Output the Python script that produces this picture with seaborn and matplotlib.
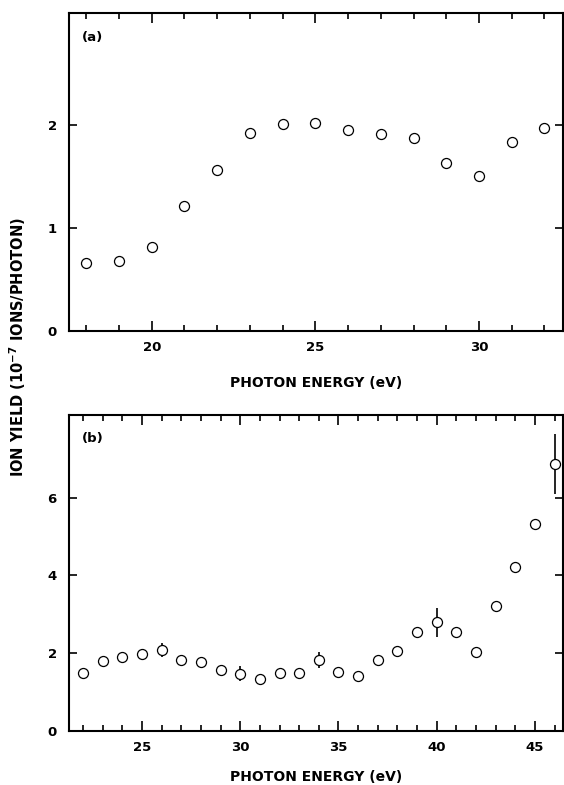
import numpy as np
import pandas as pd
import matplotlib.pyplot as plt
import seaborn as sns
from matplotlib.ticker import MultipleLocator

sns.set_style("ticks")
plt.rcParams['font.family'] = ['DejaVu Sans']
plt.rcParams['font.weight'] = 'bold'
plt.rcParams['text.color'] = 'black'
plt.rcParams['axes.labelcolor'] = 'black'

# panel (a)
energy_a = [18, 19, 20, 21, 22, 23, 24, 25, 26, 27, 28, 29, 30, 31, 32]
yield_a = [0.66, 0.68, 0.82, 1.22, 1.57, 1.93, 2.01, 2.02, 1.96, 1.92, 1.88, 1.63, 1.51, 1.84, 1.97]

# panel (b)
energy_b = [22, 23, 24, 25, 26, 27, 28, 29, 30, 31, 32, 33, 34, 35, 36, 37, 38, 39, 40,
            41, 42, 43, 44, 45, 46]
yield_b = [1.50, 1.80, 1.91, 1.98, 2.08, 1.83, 1.77, 1.57, 1.47, 1.33, 1.48, 1.50, 1.83,
           1.52, 1.41, 1.83, 2.06, 2.54, 2.79, 2.54, 2.02, 3.21, 4.21, 5.32, 6.86]
err_energy = [26, 30, 34, 40, 46]
err_size = [0.19, 0.19, 0.21, 0.37, 0.78]

yticks_a = [0, 1, 2]
yticks_b = [0, 2, 4, 6]

df_a = pd.DataFrame({'energy': energy_a, 'yield': yield_a})
df_b = pd.DataFrame({'energy': energy_b, 'yield': yield_b})
df_err = df_b[df_b['energy'].isin(err_energy)].copy()
df_err['err'] = err_size

fig = plt.figure(figsize=(5.64, 7.85), dpi=100)
ax1 = fig.add_axes([0.1229, 0.5783, 0.876, 0.4047])
ax2 = fig.add_axes([0.1229, 0.0688, 0.876, 0.4025])


def style_axis(ax, xlim, ylim, yticks, label, labelpad):
    ax.set_xlim(*xlim)
    ax.set_ylim(*ylim)
    ax.xaxis.set_major_locator(MultipleLocator(5))
    ax.xaxis.set_minor_locator(MultipleLocator(1))
    ax.set_yticks(yticks)
    ax.tick_params(which='both', direction='in', top=True, right=True,
                   width=1.2, labelsize=9.5, colors='black')
    ax.tick_params(axis='x', which='major', length=7, pad=7)
    ax.tick_params(axis='x', which='minor', length=4.5)
    ax.tick_params(axis='y', which='major', length=6, pad=9)
    for s in ax.spines.values():
        s.set_linewidth(1.5)
        s.set_color('black')
    for t in ax.get_xticklabels() + ax.get_yticklabels():
        t.set_fontweight('bold')
    ax.set_xlabel('PHOTON ENERGY (eV)', fontsize=10, fontweight='bold', labelpad=labelpad)
    ax.set_ylabel('')
    ax.text(0.026, 0.925, label, transform=ax.transAxes, fontsize=9.5,
            fontweight='bold', va='center', ha='left')


sns.scatterplot(data=df_a, x='energy', y='yield', ax=ax1, marker='o', s=52,
                facecolor='white', edgecolor='black', linewidth=0.9, zorder=3)
style_axis(ax1, (17.48, 32.58), (0, 3.09), yticks_a, '(a)', 16)

ax2.errorbar(df_err['energy'], df_err['yield'], yerr=df_err['err'], fmt='none',
             ecolor='black', elinewidth=1.2, capsize=0, zorder=2)
sns.scatterplot(data=df_b, x='energy', y='yield', ax=ax2, marker='o', s=52,
                facecolor='white', edgecolor='black', linewidth=0.9, zorder=3)
style_axis(ax2, (21.3, 46.45), (0, 8.12), yticks_b, '(b)', 12)

fig.text(0.032, 0.558, 'ION YIELD (10$^{\\mathbf{-7}}$ IONS/PHOTON)', rotation=90,
         fontsize=10.5, fontweight='bold', ha='center', va='center')

fig.savefig('out.png', dpi=100, facecolor='white')
